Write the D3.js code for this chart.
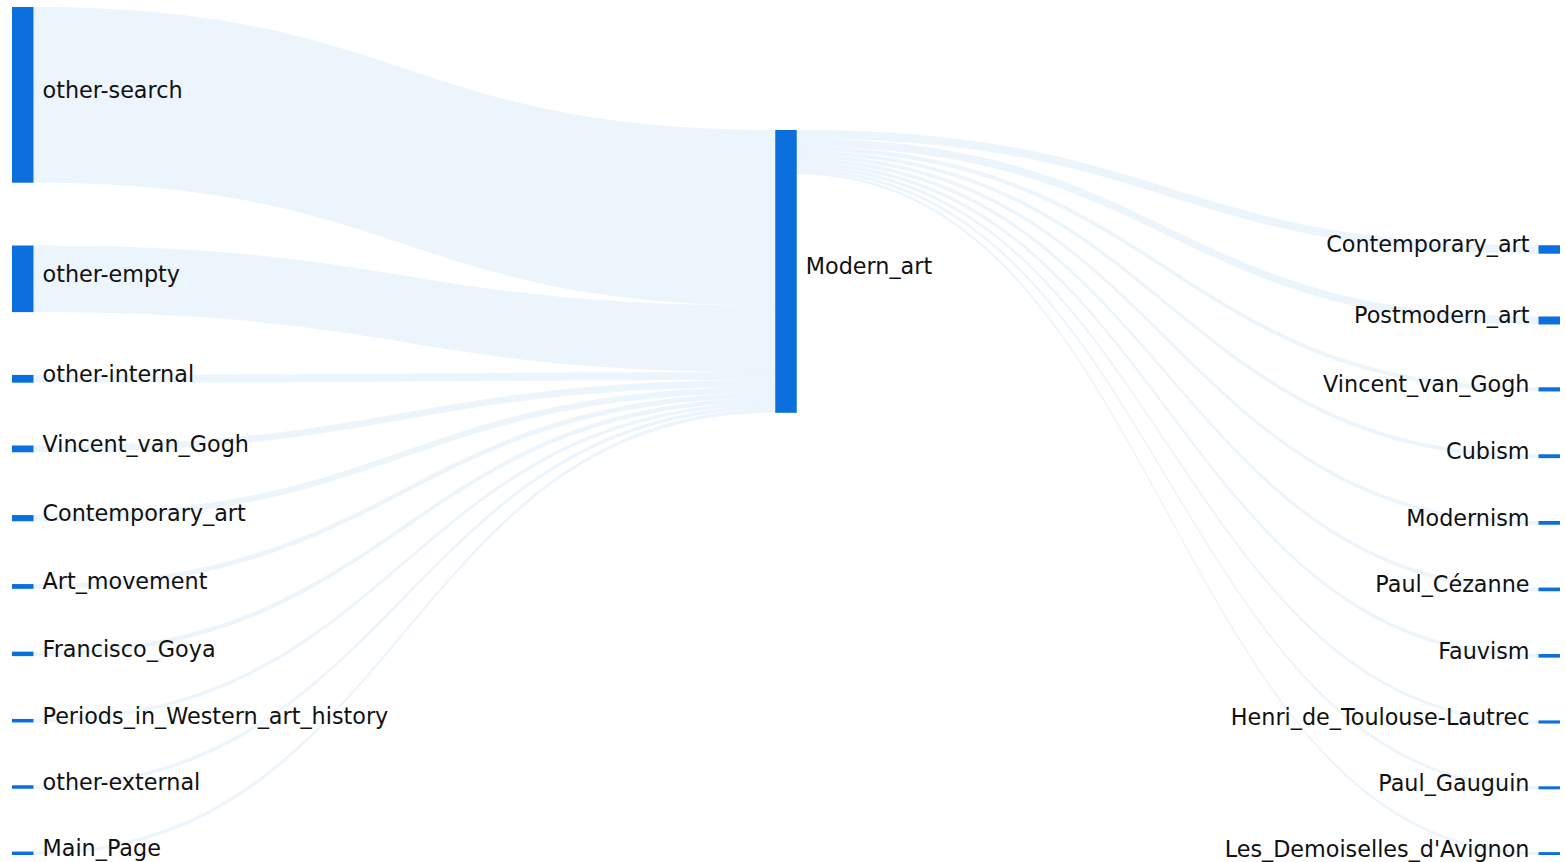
<!DOCTYPE html>
<html>

<head>
    <meta charset="utf-8" />
    <script src="https://d3js.org/d3.v7.min.js"></script>
    <style>
        body {
            margin: 0;
            background: #fff;
        }

        .label {
            font-family: "DejaVu Sans", Verdana, sans-serif;
            font-size: 22.3px;
            fill: #111;
        }
    </style>
</head>

<body>
    <script>
        // clickstream for one article: where readers came from, where they went
        const centerPage = 'Modern_art';

        const sourcePages = ['other-search', 'other-empty', 'other-internal', 'Vincent_van_Gogh', 'Contemporary_art',
            'Art_movement', 'Francisco_Goya', 'Periods_in_Western_art_history', 'other-external', 'Main_Page'
        ];
        const sourceViews = [17620, 6680, 780, 680, 620, 480, 450, 355, 350, 345];

        const targetPages = ['Contemporary_art', 'Postmodern_art', 'Vincent_van_Gogh', 'Cubism', 'Modernism',
            'Paul_Cézanne', 'Fauvism', 'Henri_de_Toulouse-Lautrec', 'Paul_Gauguin', "Les_Demoiselles_d'Avignon"
        ];
        const targetViews = [850, 800, 420, 390, 380, 370, 360, 310, 300, 290];

        // dimensions
        const width = 1566;
        const height = 862;
        const extent = { left: 12, right: 1560, top: 7, bottom: 855 };
        const nodeWidth = 21.5;
        const nodePadding = 62.8;
        const iterations = 36;

        const nodeColor = '#0b6fdd';
        const linkColor = 'rgba(10, 110, 220, 0.08)';

        // graph
        const nodes = [];
        const links = [];
        sourcePages.forEach((name, i) => nodes.push({ id: 'in' + i, name: name, layer: 0 }));
        const mid = { id: 'mid', name: centerPage, layer: 1 };
        nodes.push(mid);
        targetPages.forEach((name, i) => nodes.push({ id: 'out' + i, name: name, layer: 2 }));

        sourceViews.forEach((v, i) => links.push({ source: nodes[i], target: mid, value: v }));
        targetViews.forEach((v, i) => links.push({ source: mid, target: nodes[sourcePages.length + 1 + i], value: v }));

        nodes.forEach(n => {
            n.sourceLinks = links.filter(l => l.source === n);
            n.targetLinks = links.filter(l => l.target === n);
            n.value = Math.max(d3.sum(n.sourceLinks, l => l.value), d3.sum(n.targetLinks, l => l.value));
        });

        // horizontal placement
        const xScale = d3.scaleLinear().domain([0, 2]).range([extent.left, extent.right - nodeWidth]);
        nodes.forEach(n => {
            n.x0 = xScale(n.layer);
            n.x1 = n.x0 + nodeWidth;
        });

        // vertical placement (classic sankey relaxation)
        const columns = d3.groups(nodes, n => n.layer).sort((a, b) => a[0] - b[0]).map(d => d[1]);
        const ky = d3.min(columns, c => (extent.bottom - extent.top - (c.length - 1) * nodePadding) / d3.sum(c, n => n.value));
        const yScale = d3.scaleLinear().domain([0, 1]).range([0, ky]);

        columns.forEach(c => c.forEach((n, i) => {
            n.y0 = i;
            n.y1 = i + yScale(n.value);
        }));
        links.forEach(l => l.width = yScale(l.value));

        const center = n => (n.y0 + n.y1) / 2;

        function resolveCollisions() {
            columns.forEach(c => {
                c.sort((a, b) => a.y0 - b.y0);
                let y = extent.top;
                let node;
                for (let i = 0; i < c.length; i++) {
                    node = c[i];
                    const dy = y - node.y0;
                    if (dy > 0) { node.y0 += dy; node.y1 += dy; }
                    y = node.y1 + nodePadding;
                }
                let dy = y - nodePadding - extent.bottom;
                if (dy > 0) {
                    node.y0 -= dy; node.y1 -= dy;
                    y = node.y0;
                    for (let i = c.length - 2; i >= 0; i--) {
                        node = c[i];
                        dy = node.y1 + nodePadding - y;
                        if (dy > 0) { node.y0 -= dy; node.y1 -= dy; }
                        y = node.y0;
                    }
                }
            });
        }

        function relaxLeftToRight(alpha) {
            columns.forEach(c => c.forEach(n => {
                if (!n.targetLinks.length) return;
                const target = d3.sum(n.targetLinks, l => center(l.source) * l.value) / d3.sum(n.targetLinks, l => l.value);
                const dy = (target - center(n)) * alpha;
                n.y0 += dy;
                n.y1 += dy;
            }));
        }

        function relaxRightToLeft(alpha) {
            columns.slice().reverse().forEach(c => c.forEach(n => {
                if (!n.sourceLinks.length) return;
                const target = d3.sum(n.sourceLinks, l => center(l.target) * l.value) / d3.sum(n.sourceLinks, l => l.value);
                const dy = (target - center(n)) * alpha;
                n.y0 += dy;
                n.y1 += dy;
            }));
        }

        resolveCollisions();
        let alpha = 1;
        for (let k = iterations; k > 0; k--) {
            relaxRightToLeft(alpha *= 0.99);
            resolveCollisions();
            relaxLeftToRight(alpha);
            resolveCollisions();
        }

        // link breadths
        nodes.forEach(n => {
            n.sourceLinks.sort((a, b) => a.target.y0 - b.target.y0);
            n.targetLinks.sort((a, b) => a.source.y0 - b.source.y0);
        });
        nodes.forEach(n => {
            let y = n.y0;
            n.sourceLinks.forEach(l => { l.sy = y; y += l.width; });
            y = n.y0;
            n.targetLinks.forEach(l => { l.ty = y; y += l.width; });
        });

        function linkPath(l) {
            const xa = l.source.x1;
            const xb = l.target.x0;
            const xc = d3.interpolateNumber(xa, xb)(0.5);
            const w = l.width;
            return `M${xa},${l.sy}C${xc},${l.sy} ${xc},${l.ty} ${xb},${l.ty}` +
                `L${xb},${l.ty + w}C${xc},${l.ty + w} ${xc},${l.sy + w} ${xa},${l.sy + w}Z`;
        }

        const svg = d3
            .select('body')
            .append('svg')
            .attr('width', width)
            .attr('height', height);

        svg.append('g')
            .selectAll('path')
            .data(links)
            .enter()
            .append('path')
            .attr('d', linkPath)
            .style('fill', linkColor);

        svg.append('g')
            .selectAll('rect')
            .data(nodes)
            .enter()
            .append('rect')
            .attr('x', d => d.x0)
            .attr('y', d => d.y0)
            .attr('width', d => d.x1 - d.x0)
            .attr('height', d => Math.max(1, d.y1 - d.y0))
            .style('fill', nodeColor);

        svg.append('g')
            .selectAll('text')
            .data(nodes)
            .enter()
            .append('text')
            .attr('class', 'label')
            .attr('x', d => d.layer < 2 ? d.x1 + 9 : d.x0 - 9)
            .attr('y', d => center(d) + 3)
            .style('text-anchor', d => d.layer < 2 ? 'start' : 'end')
            .text(d => d.name);
    </script>
</body>

</html>
